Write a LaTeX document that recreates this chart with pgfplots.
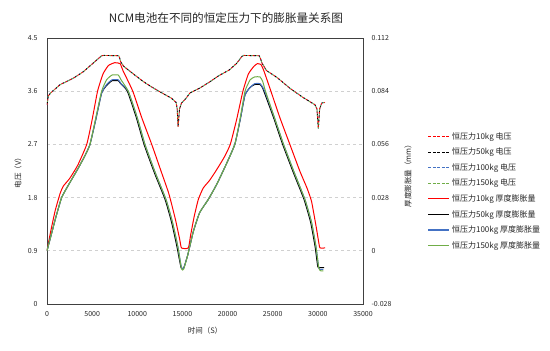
\documentclass[border=0pt]{standalone}
\usepackage{pgfplots}
\pgfplotsset{compat=1.18}
\usepackage{fontspec}
\setmainfont{Noto Sans CJK SC}
\definecolor{xlred}{HTML}{FF0000}
\definecolor{xlblue}{HTML}{4472C4}
\definecolor{xlgreen}{HTML}{70AD47}
\definecolor{gridc}{HTML}{D0D0D0}
\definecolor{txtc}{HTML}{262626}

\begin{document}
\begin{tikzpicture}
\path[use as bounding box] (-47pt,-47pt) rectangle (503pt,304pt);
\node[font=\fontsize{11.6}{13}\selectfont, text=txtc] at (179pt,286pt) {NCM电池在不同的恒定压力下的膨胀量关系图};

\pgfplotsset{
  common/.style={
    width=316pt, height=266pt, scale only axis,
    xmin=0, xmax=35000,
    tick style={draw=none},
    tick label style={font=\fontsize{7}{8}\selectfont, text=txtc},
    label style={font=\fontsize{7.5}{9}\selectfont, text=txtc},
  }
}

\begin{axis}[common,
  ymin=0, ymax=4.5,
  scaled x ticks=false,
  xtick={0,5000,10000,15000,20000,25000,30000,35000},
  xticklabels={0,5000,10000,15000,20000,25000,30000,35000},
  ytick={0,0.9,1.8,2.7,3.6,4.5},
  yticklabels={0,0.9,1.8,2.7,3.6,4.5},
  ymajorgrids, grid style={dashed, gridc, line width=0.6pt},
  axis line style={black!75, line width=0.7pt},
  xticklabel style={yshift=-4pt},
  yticklabel style={xshift=-6pt},
  xlabel={时间（S）},
  xlabel style={at={(axis description cs:0.5,-0.1015)}, anchor=center},
  ylabel={电压（V）},
  ylabel style={at={(axis description cs:-0.092,0.5)}, anchor=center},
]
\pgfplotstableread{
t v
0 3.37
150 3.52
400 3.57
1440 3.71
2920 3.82
4030 3.93
5300 4.10
6050 4.20
6300 4.205
7950 4.20
8050 4.16
8150 4.10
8500 4.02
9500 3.90
10600 3.77
11500 3.68
12500 3.59
13800 3.48
14300 3.41
14420 3.30
14520 3.00
14680 3.30
14900 3.40
15400 3.48
15830 3.57
17000 3.66
18050 3.76
19000 3.86
20200 3.96
21000 4.07
21600 4.19
21800 4.205
23500 4.20
23650 4.15
23800 4.08
24300 3.95
25500 3.83
26900 3.65
28300 3.50
29680 3.37
29900 3.30
30050 2.97
30200 3.30
30420 3.40
30790 3.41
}\volt
\addplot[xlblue, line width=0.9pt, dash pattern=on 2pt off 2pt, dash phase=1pt] table {\volt};
\addplot[black, line width=0.9pt, dash pattern=on 1.5pt off 3pt, dash phase=3pt] table {\volt};
\addplot[xlgreen, line width=0.9pt, dash pattern=on 1.5pt off 3pt, dash phase=1.5pt] table {\volt};
\addplot[xlred, line width=0.9pt, dash pattern=on 1.5pt off 3pt, dash phase=0pt] table {\volt};
\end{axis}

\begin{axis}[common,
  ymin=-0.028, ymax=0.112,
  axis x line=none,
  axis y line*=right,
  axis line style={black!75, line width=0.7pt},
  ytick={-0.028,0,0.028,0.056,0.084,0.112},
  yticklabels={-0.028,0,0.028,0.056,0.084,0.112},
  yticklabel style={xshift=5pt},
  ylabel={厚度膨胀量（mm）},
  ylabel style={at={(axis description cs:1.1424,0.489)}, anchor=center},
  legend style={at={(axis description cs:1.195,0.66)}, anchor=north west,
    draw=none, fill=none, font=\fontsize{8}{9}\selectfont, text=txtc,
    row sep=3.3pt, cells={anchor=west}},
  legend image code/.code={\draw[#1] (0pt,0pt) -- (21pt,0pt);},
]
\addlegendimage{xlred, line width=1pt, dash pattern=on 3pt off 1.5pt}
\addlegendentry{恒压力10kg 电压}
\addlegendimage{black, line width=1pt, dash pattern=on 3pt off 1.5pt}
\addlegendentry{恒压力50kg 电压}
\addlegendimage{xlblue, line width=1pt, dash pattern=on 3pt off 1.5pt}
\addlegendentry{恒压力100kg 电压}
\addlegendimage{xlgreen, line width=1pt, dash pattern=on 3pt off 1.5pt}
\addlegendentry{恒压力150kg 电压}

\addplot[xlred, line width=1pt, smooth, tension=0.3, forget plot] coordinates {
(0,0.000) (400,0.010) (900,0.021) (1440,0.030) (1800,0.034) (2500,0.038)
(3400,0.045) (4400,0.056) (5000,0.069) (5600,0.084) (6200,0.093) (6800,0.0975)
(7500,0.099) (8100,0.0985) (8400,0.095) (9500,0.084) (10500,0.070) (11600,0.056)
(12700,0.041) (13500,0.030) (14200,0.017) (14700,0.006) (14900,0.0015) (15650,0.0015)
(15900,0.008) (16300,0.018) (16760,0.027) (17300,0.033) (18000,0.037) (18700,0.042)
(19600,0.049) (20300,0.056) (21000,0.069) (21700,0.084) (22300,0.093) (22900,0.097)
(23300,0.0985) (23700,0.098) (24000,0.095) (24800,0.084) (25800,0.070) (26900,0.056)
(28000,0.042) (28800,0.033) (29300,0.026) (29800,0.013) (30150,0.003) (30250,0.0015)
(30800,0.0015)};

\addplot[black, line width=1pt, smooth, tension=0.3, forget plot] coordinates {
(0,0.000) (500,0.009) (1000,0.018) (1620,0.028) (2300,0.034) (3400,0.043)
(4200,0.050) (4760,0.056) (5400,0.069) (6050,0.083) (6600,0.087) (7200,0.0895)
(7900,0.0895) (8150,0.088) (8900,0.084) (9900,0.070) (10750,0.056) (11900,0.041)
(13080,0.027) (13800,0.015) (14400,0.002) (14850,-0.0089) (15150,-0.0089) (15600,-0.002)
(16200,0.010) (16900,0.020) (17860,0.027) (18800,0.035) (19800,0.045) (20800,0.056)
(21400,0.069) (21930,0.082) (22500,0.086) (23000,0.0875) (23600,0.0875) (23850,0.086)
(24100,0.083) (25100,0.070) (26100,0.056) (27300,0.041) (28470,0.027) (29200,0.015)
(29700,0.002) (30000,-0.0085) (30300,-0.0088) (30700,-0.0088)};

\addplot[xlblue, line width=1pt, smooth, tension=0.3, forget plot] coordinates {
(0,0.000) (500,0.009) (1000,0.018) (1620,0.028) (2300,0.034) (3400,0.043)
(4200,0.050) (4760,0.056) (5400,0.069) (6050,0.083) (6600,0.0875) (7200,0.090)
(7900,0.090) (8200,0.088) (9000,0.084) (10000,0.070) (10850,0.056) (12000,0.041)
(13180,0.027) (13900,0.015) (14500,0.002) (14900,-0.009) (15150,-0.009) (15600,-0.002)
(16200,0.010) (16900,0.020) (17860,0.027) (18800,0.035) (19800,0.045) (20800,0.056)
(21400,0.069) (21930,0.082) (22500,0.086) (23000,0.088) (23600,0.088) (23900,0.086)
(24200,0.083) (25200,0.070) (26200,0.056) (27400,0.041) (28570,0.027) (29300,0.015)
(29800,0.002) (30100,-0.009) (30300,-0.0098) (30600,-0.0098)};

\addplot[xlgreen, line width=1pt, smooth, tension=0.3, forget plot] coordinates {
(0,0.000) (500,0.009) (1000,0.018) (1620,0.028) (2300,0.034) (3400,0.043)
(4200,0.050) (4760,0.056) (5400,0.070) (6050,0.084) (6600,0.090) (7200,0.0925)
(7900,0.0925) (8200,0.090) (9000,0.084) (10000,0.070) (10850,0.056) (12000,0.041)
(13180,0.027) (13900,0.015) (14500,0.002) (14900,-0.0095) (15150,-0.0095) (15600,-0.002)
(16200,0.010) (16900,0.020) (17860,0.027) (18800,0.035) (19800,0.045) (20800,0.056)
(21400,0.070) (21930,0.084) (22500,0.090) (23000,0.0915) (23600,0.0915) (23900,0.089)
(24200,0.084) (25200,0.070) (26200,0.056) (27400,0.041) (28570,0.027) (29300,0.015)
(29800,0.002) (30100,-0.009) (30300,-0.0105) (30600,-0.0106)};

\addlegendimage{xlred, line width=1.3pt}
\addlegendentry{恒压力10kg 厚度膨胀量}
\addlegendimage{black, line width=1.3pt}
\addlegendentry{恒压力50kg 厚度膨胀量}
\addlegendimage{xlblue, line width=1.3pt}
\addlegendentry{恒压力100kg 厚度膨胀量}
\addlegendimage{xlgreen, line width=1.3pt}
\addlegendentry{恒压力150kg 厚度膨胀量}
\end{axis}
\end{tikzpicture}
\end{document}
